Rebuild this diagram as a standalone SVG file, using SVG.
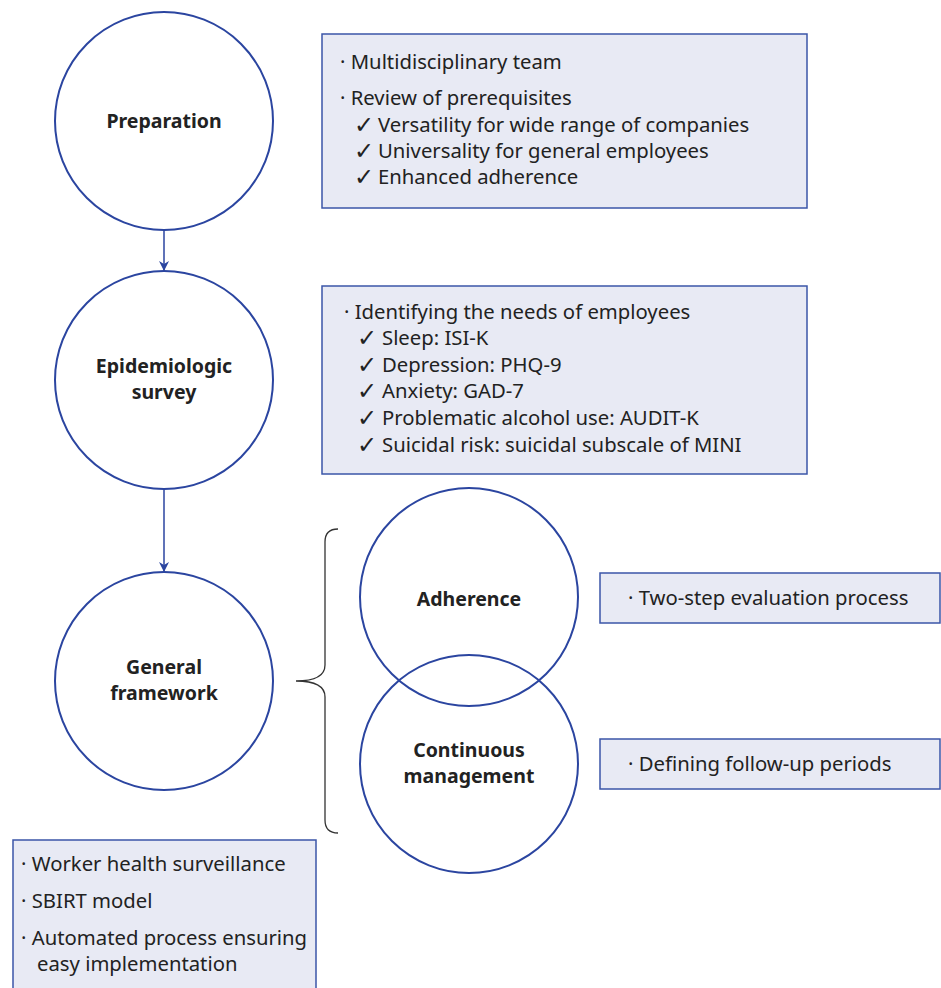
<svg xmlns="http://www.w3.org/2000/svg" width="941" height="988" viewBox="0 0 941 988">
<defs>
<style>
.c{fill:none;stroke:#2b45a0;stroke-width:2}
.b{fill:#e8eaf4;stroke:#3b56a8;stroke-width:1.5}
.t{font-family:"Noto Sans","Open Sans",sans-serif;font-size:20.3px;fill:#222}
.k{font-family:"DejaVu Sans",sans-serif;font-size:24px;fill:#222}
.h{font-family:"Noto Sans","Open Sans",sans-serif;font-size:19.5px;font-weight:bold;fill:#222;text-anchor:middle}
.e{fill:none;stroke:#2b45a0;stroke-width:1.5}
</style>
<marker id="ar" markerWidth="10" markerHeight="10" refX="9" refY="5" orient="auto" markerUnits="userSpaceOnUse">
<path d="M0,0 L10,5 L0,10 L3,5 z" fill="#2b45a0"/>
</marker>
</defs>
<rect width="941" height="988" fill="#fff"/>
<g id="connectors">
<line class="e" x1="164" y1="230" x2="164" y2="270" marker-end="url(#ar)"/>
<line class="e" x1="164" y1="489" x2="164" y2="571" marker-end="url(#ar)"/>
<path d="M296,681 C310,681 325,678 325,665 L325,542 C325,533 330,529 338,529 M296,681 C310,681 325,684 325,697 L325,820 C325,829 330,833 338,833" fill="none" stroke="#333" stroke-width="1.3"/>
</g>
<g id="preparation">
<circle class="c" cx="164" cy="121" r="109"/>
<text class="h" x="164" y="128">Preparation</text>
</g>
<g id="epidemiologic">
<circle class="c" cx="164" cy="380" r="109"/>
<text class="h" x="164" y="373">Epidemiologic</text>
<text class="h" x="164" y="399">survey</text>
</g>
<g id="general">
<circle class="c" cx="164" cy="681" r="109"/>
<text class="h" x="164" y="674">General</text>
<text class="h" x="164" y="700">framework</text>
</g>
<g id="adherence">
<circle class="c" cx="469" cy="597" r="109"/>
<text class="h" x="469" y="606">Adherence</text>
</g>
<g id="continuous">
<circle class="c" cx="469" cy="764" r="109"/>
<text class="h" x="469" y="757">Continuous</text>
<text class="h" x="469" y="783">management</text>
</g>
<g id="box-prep">
<rect class="b" x="322" y="34" width="485" height="174"/>
<text class="t" x="340" y="69">· Multidisciplinary team</text>
<text class="t" x="340" y="105">· Review of prerequisites</text>
<text class="k" x="354" y="133">✓</text><text class="t" x="378" y="132">Versatility for wide range of companies</text>
<text class="k" x="354" y="159">✓</text><text class="t" x="378" y="158">Universality for general employees</text>
<text class="k" x="354" y="185">✓</text><text class="t" x="378" y="184">Enhanced adherence</text>
</g>
<g id="box-epi">
<rect class="b" x="322" y="286" width="485" height="188"/>
<text class="t" x="344" y="319">· Identifying the needs of employees</text>
<text class="k" x="357" y="346">✓</text><text class="t" x="382" y="345">Sleep: ISI-K</text>
<text class="k" x="357" y="373">✓</text><text class="t" x="382" y="372">Depression: PHQ-9</text>
<text class="k" x="357" y="399">✓</text><text class="t" x="382" y="398">Anxiety: GAD-7</text>
<text class="k" x="357" y="426">✓</text><text class="t" x="382" y="425">Problematic alcohol use: AUDIT-K</text>
<text class="k" x="357" y="453">✓</text><text class="t" x="382" y="452">Suicidal risk: suicidal subscale of MINI</text>
</g>
<g id="box-adh">
<rect class="b" x="600" y="573" width="340" height="50"/>
<text class="t" x="628" y="605">· Two-step evaluation process</text>
</g>
<g id="box-cont">
<rect class="b" x="600" y="739" width="340" height="50"/>
<text class="t" x="628" y="771">· Defining follow-up periods</text>
</g>
<g id="box-gen">
<rect class="b" x="13" y="840" width="303" height="160"/>
<text class="t" x="21" y="871">· Worker health surveillance</text>
<text class="t" x="21" y="908">· SBIRT model</text>
<text class="t" x="21" y="945">· Automated process ensuring</text>
<text class="t" x="37" y="971">easy implementation</text>
</g>
</svg>
